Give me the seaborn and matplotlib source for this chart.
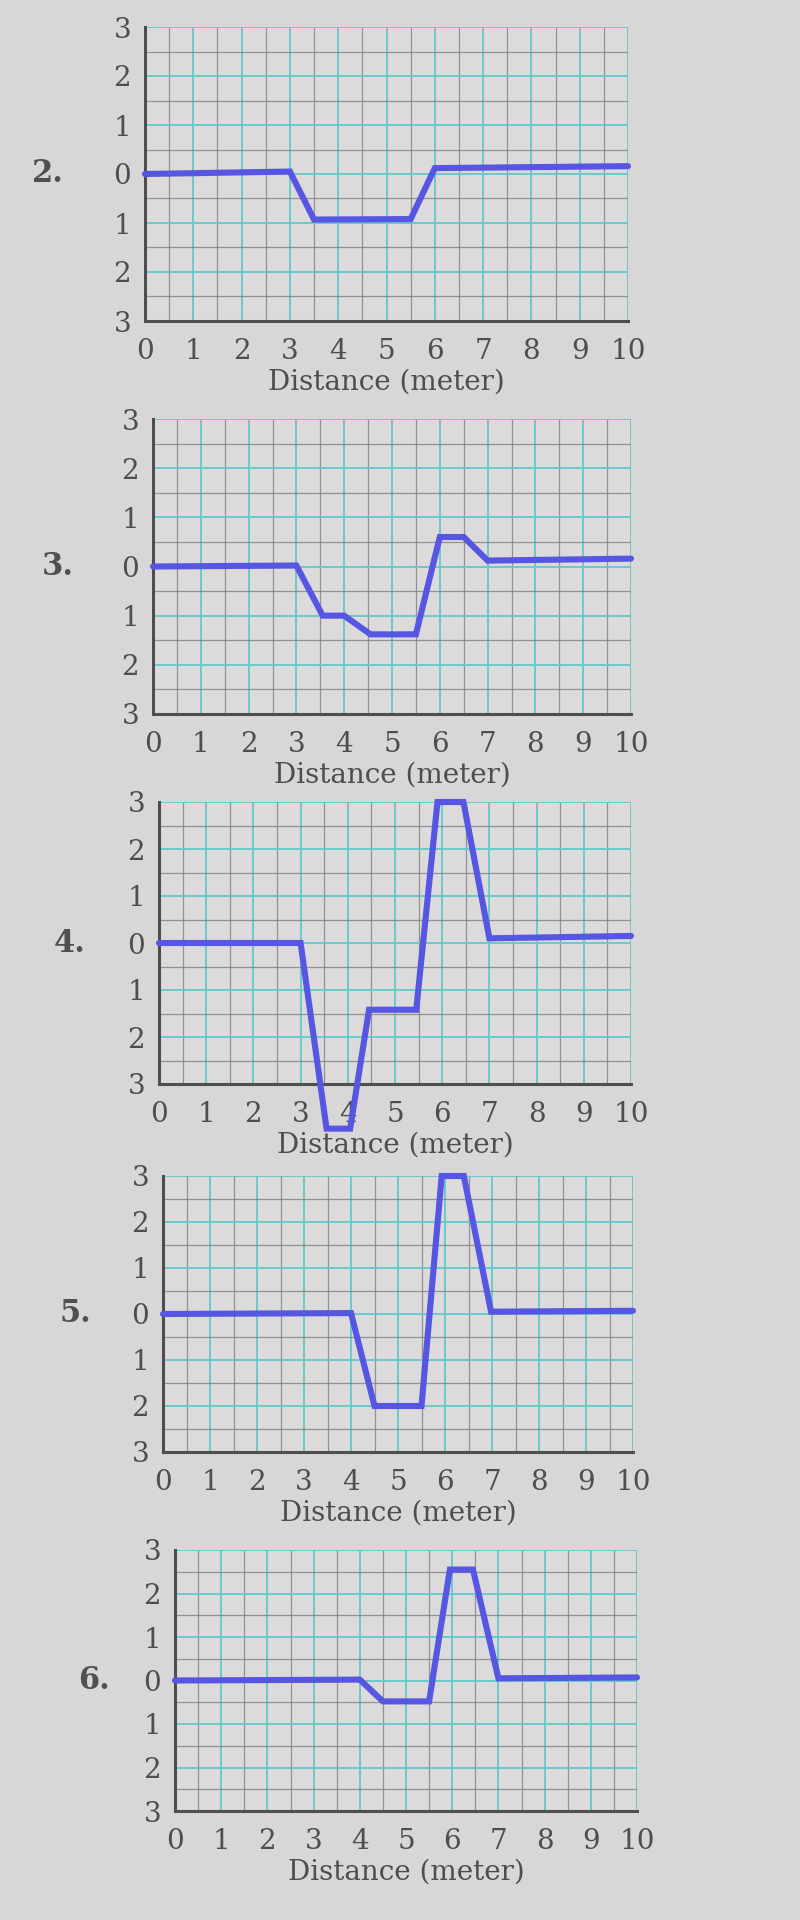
import pandas as pd
import matplotlib
matplotlib.use('Agg')
import matplotlib.pyplot as plt
import seaborn as sns
from matplotlib.ticker import FixedLocator, MultipleLocator
from matplotlib.transforms import blended_transform_factory

# data (distance in meter, height)
dist_2 = [0, 3.0, 3.5, 5.5, 6.0, 10]
height_2 = [0, 0.05, -0.93, -0.92, 0.12, 0.16]

dist_3 = [0, 3.0, 3.55, 4.0, 4.55, 5.5, 6.0, 6.5, 7.0, 10]
height_3 = [0, 0.02, -1.0, -1.0, -1.38, -1.38, 0.6, 0.6, 0.12, 0.16]

dist_4 = [0, 3.0, 3.55, 4.05, 4.45, 5.45, 5.9, 6.45, 7.0, 10]
height_4 = [0, 0.0, -3.95, -3.95, -1.42, -1.42, 3.0, 3.0, 0.1, 0.15]

dist_5 = [0, 4.0, 4.5, 5.5, 5.93, 6.4, 6.98, 10]
height_5 = [0, 0.02, -2.0, -2.0, 3.0, 3.0, 0.05, 0.07]

dist_6 = [0, 4.0, 4.5, 5.5, 5.95, 6.45, 7.0, 10]
height_6 = [0, 0.02, -0.48, -0.48, 2.55, 2.55, 0.05, 0.07]

panel_labels = ['2.', '3.', '4.', '5.', '6.']
x_ticks = [0, 1, 2, 3, 4, 5, 6, 7, 8, 9, 10]
y_ticks = [-3, -2, -1, 0, 1, 2, 3]
y_tick_labels = ['3', '2', '1', '0', '1', '2', '3']

series = [(dist_2, height_2), (dist_3, height_3), (dist_4, height_4),
          (dist_5, height_5), (dist_6, height_6)]

# axes boxes in pixels: left (x=0), top (y=3), right (x=10), bottom (y=-3), label x
boxes = [(145, 27, 628, 321, 32),
         (153, 419, 631, 714, 42),
         (159, 802, 631, 1084, 54),
         (163, 1176, 633, 1452, 60),
         (175, 1550, 637, 1811, 78)]

bg = '#d8d6d7'
ink = '#4e4e4e'
cyan = '#62c9c9'
grey = '#808080'
blue = '#5656e2'

sns.set_theme(style='white')
plt.rcParams['font.family'] = ['DejaVu Serif']

W, H = 800, 1920
fig = plt.figure(figsize=(W / 100, H / 100), dpi=100, facecolor=bg)

for (xs, ys), label, (x0, top, x1, bot, lx) in zip(series, panel_labels, boxes):
    ax = fig.add_axes([x0 / W, 1 - bot / H, (x1 - x0) / W, (bot - top) / H])
    ax.set_facecolor('#dcdadb')
    df = pd.DataFrame({'Distance': xs, 'Height': ys})
    sns.lineplot(data=df, x='Distance', y='Height', ax=ax, color=blue,
                 linewidth=4.4, sort=False, estimator=None,
                 clip_on=False, zorder=5, solid_joinstyle='miter')

    ax.set_xlim(0, 10)
    ax.set_ylim(-3, 3)
    ax.xaxis.set_major_locator(FixedLocator(x_ticks))
    ax.xaxis.set_minor_locator(MultipleLocator(0.5))
    ax.set_yticks(y_ticks)
    ax.set_yticklabels(y_tick_labels)
    ax.yaxis.set_minor_locator(MultipleLocator(0.5))

    ax.grid(which='major', color=cyan, linewidth=1.3)
    ax.grid(which='minor', color=grey, linewidth=0.9, alpha=0.8)
    ax.set_axisbelow(True)

    ax.tick_params(which='minor', length=0)
    ax.tick_params(which='major', direction='inout', length=14, width=2,
                   color=ink, labelsize=20, labelcolor=ink)
    ax.tick_params(axis='x', pad=5)
    ax.tick_params(axis='y', pad=3)
    for s in ['top', 'right']:
        ax.spines[s].set_visible(False)
    for s in ['left', 'bottom']:
        ax.spines[s].set_color(ink)
        ax.spines[s].set_linewidth(2.2)

    ax.set_xlabel('Distance (meter)', fontsize=20, color=ink, labelpad=3)
    ax.set_ylabel('')

    tr = blended_transform_factory(fig.transFigure, ax.transData)
    ax.text(lx / W, 0, label, transform=tr, fontsize=22, fontweight='bold',
            color='#505050', ha='left', va='center')

fig.savefig('out.png', dpi=100, facecolor=bg)
